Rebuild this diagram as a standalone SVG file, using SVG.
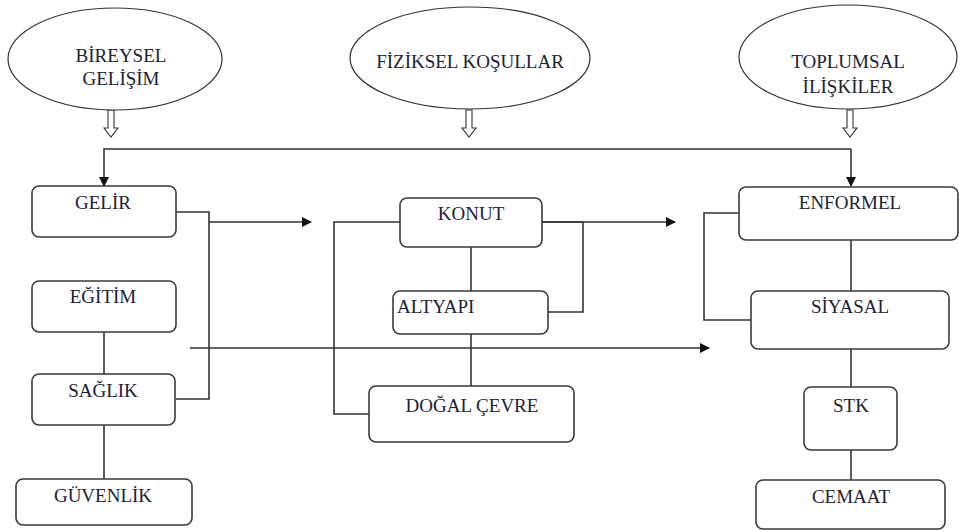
<svg xmlns="http://www.w3.org/2000/svg" width="959" height="531" viewBox="0 0 959 531">
<style>
.e{fill:#fff;stroke:#333;stroke-width:1.2}
.b{fill:#fff;stroke:#3a3a3a;stroke-width:1.6}
.h{fill:#fff;stroke:#333;stroke-width:1.1}
.c{fill:none;stroke:#333;stroke-width:1.6}
text{font-family:"Liberation Serif","Times New Roman",serif;font-size:19px;fill:#1c2233;text-anchor:middle}
</style>
<defs>
<marker id="ar" viewBox="0 0 10 10" refX="9" refY="5" markerWidth="11" markerHeight="10" markerUnits="userSpaceOnUse" orient="auto">
<path d="M0,0 L10,5 L0,10 z" fill="#111"/>
</marker>
</defs>
<rect width="959" height="531" fill="#fff"/>

<g id="connectors">
<polygon class="h" points="108,110 114,110 114,128 118,128 111,137 104,128 108,128"/>
<polygon class="h" points="466,110 472,110 472,128 476,128 469,137 462,128 466,128"/>
<polygon class="h" points="847,110 853,110 853,128 857,128 850,137 843,128 847,128"/>
<path class="c" d="M851,149 H104 V186" marker-end="url(#ar)"/>
<path class="c" d="M851,149 V186" marker-end="url(#ar)"/>
<path class="c" d="M176,212 H209 V399 H176"/>
<path class="c" d="M209,222 H311" marker-end="url(#ar)"/>
<path class="c" d="M190,348 H709" marker-end="url(#ar)"/>
<path class="c" d="M104,332 V374"/>
<path class="c" d="M104,425 V479"/>
<path class="c" d="M400,222 H334 V414 H369"/>
<path class="c" d="M542,222 H675" marker-end="url(#ar)"/>
<path class="c" d="M542,222 H583 V312 H548"/>
<path class="c" d="M471,247 V291"/>
<path class="c" d="M471,334 V386"/>
<path class="c" d="M739,213 H704 V320 H751"/>
<path class="c" d="M851,240 V291"/>
<path class="c" d="M851,349 V387"/>
<path class="c" d="M851,450 V480"/>
</g>

<g id="bireysel">
<ellipse class="e" cx="115" cy="59" rx="107" ry="51"/>
<text x="121" y="62">BİREYSEL</text>
<text x="121" y="85">GELİŞİM</text>
</g>
<g id="fiziksel">
<ellipse class="e" cx="470" cy="58" rx="120" ry="51"/>
<text x="470" y="68">FİZİKSEL KOŞULLAR</text>
</g>
<g id="toplumsal">
<ellipse class="e" cx="848" cy="57" rx="109" ry="52"/>
<text x="848" y="68">TOPLUMSAL</text>
<text x="848" y="93">İLİŞKİLER</text>
</g>

<g id="gelir"><rect class="b" x="32" y="186" width="144" height="51" rx="7"/><text x="103" y="209">GELİR</text></g>
<g id="egitim"><rect class="b" x="32" y="281" width="144" height="51" rx="7"/><text x="103" y="303">EĞİTİM</text></g>
<g id="saglik"><rect class="b" x="32" y="374" width="143" height="51" rx="7"/><text x="103" y="397">SAĞLIK</text></g>
<g id="guvenlik"><rect class="b" x="16" y="479" width="176" height="46" rx="7"/><text x="103" y="502">GÜVENLİK</text></g>

<g id="konut"><rect class="b" x="400" y="198" width="142" height="49" rx="7"/><text x="471" y="220">KONUT</text></g>
<g id="altyapi"><rect class="b" x="393" y="291" width="155" height="43" rx="7"/><text x="397" y="313" style="text-anchor:start">ALTYAPI</text></g>
<g id="dogalcevre"><rect class="b" x="369" y="386" width="205" height="56" rx="7"/><text x="472" y="412">DOĞAL ÇEVRE</text></g>

<g id="enformel"><rect class="b" x="739" y="187" width="219" height="53" rx="7"/><text x="850" y="209">ENFORMEL</text></g>
<g id="siyasal"><rect class="b" x="751" y="291" width="198" height="58" rx="7"/><text x="850" y="313">SİYASAL</text></g>
<g id="stk"><rect class="b" x="804" y="387" width="93" height="63" rx="7"/><text x="851" y="412">STK</text></g>
<g id="cemaat"><rect class="b" x="756" y="480" width="189" height="49" rx="7"/><text x="851" y="503">CEMAAT</text></g>
</svg>
